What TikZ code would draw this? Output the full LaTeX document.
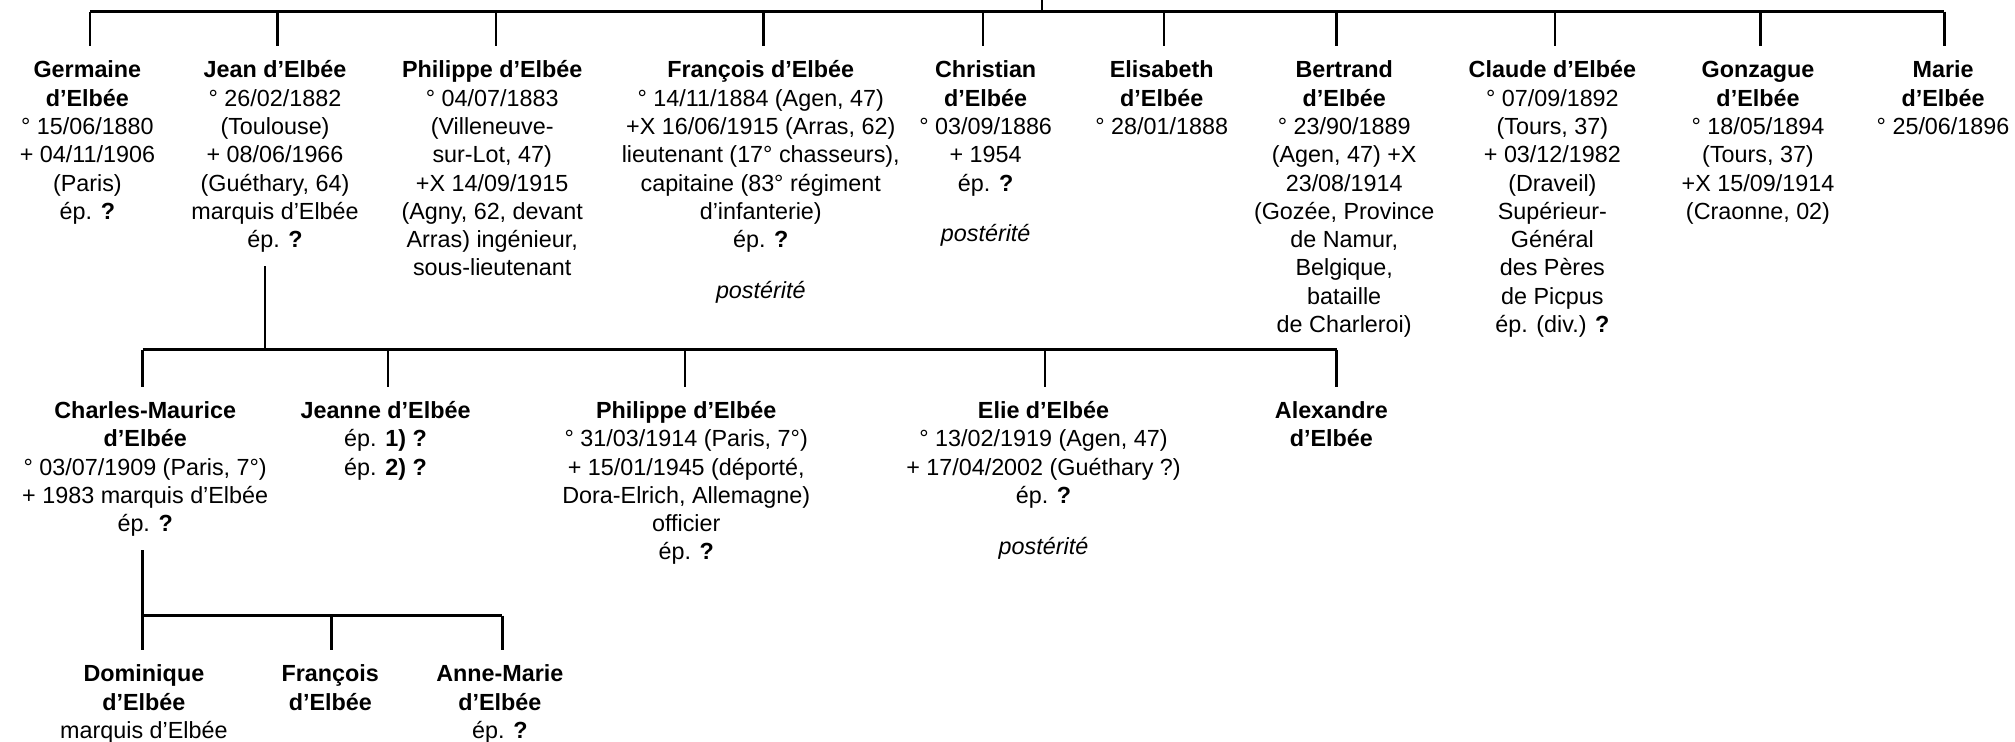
\documentclass[tikz,border=0pt]{standalone}
\usepackage{fontspec}
\setmainfont{Liberation Sans}
\newcommand\firstln{\rule{0pt}{11pt}}
\begin{document}
\begin{tikzpicture}[x=0.6pt,y=-0.6pt,line width=1.1pt,
  person/.style={anchor=north,align=center,inner sep=0pt,font=\fontsize{10.9}{13.2}\selectfont},
  link/.style={draw=black,line width=1.1pt}]
\useasboundingbox (0,0) rectangle (1568,577);
% generation 1
\node[person] (g) at (68,41.4) {\firstln\textbf{Germaine}\\\textbf{d’Elbée}\\° 15/06/1880\\+ 04/11/1906\\(Paris)\\ép. \textbf{?}};
\node[person] (jean) at (214,41.4) {\firstln\textbf{Jean d’Elbée}\\° 26/02/1882\\(Toulouse)\\+ 08/06/1966\\(Guéthary, 64)\\marquis d’Elbée\\ép. \textbf{?}};
\node[person] (ph) at (383,41.4) {\firstln\textbf{Philippe d’Elbée}\\° 04/07/1883\\(Villeneuve-\\sur-Lot, 47)\\+X 14/09/1915\\(Agny, 62, devant\\Arras) ingénieur,\\sous-lieutenant};
\node[person] (fr) at (592,41.4) {\firstln\textbf{François d’Elbée}\\° 14/11/1884 (Agen, 47)\\+X 16/06/1915 (Arras, 62)\\lieutenant (17° chasseurs),\\capitaine (83° régiment\\d’infanterie)\\ép. \textbf{?}\\[10.5pt]\textit{postérité}};
\node[person] (ch) at (767,41.4) {\firstln\textbf{Christian}\\\textbf{d’Elbée}\\° 03/09/1886\\+ 1954\\ép. \textbf{?}\\[10.5pt]\textit{postérité}};
\node[person] (el) at (904,41.4) {\firstln\textbf{Elisabeth}\\\textbf{d’Elbée}\\° 28/01/1888};
\node[person] (be) at (1046,41.4) {\firstln\textbf{Bertrand}\\\textbf{d’Elbée}\\° 23/90/1889\\(Agen, 47) +X\\23/08/1914\\(Gozée, Province\\de Namur,\\Belgique,\\bataille\\de Charleroi)};
\node[person] (cl) at (1208,41.4) {\firstln\textbf{Claude d’Elbée}\\° 07/09/1892\\(Tours, 37)\\+ 03/12/1982\\(Draveil)\\Supérieur-\\Général\\des Pères\\de Picpus\\ép. (div.) \textbf{?}};
\node[person] (go) at (1368,41.4) {\firstln\textbf{Gonzague}\\\textbf{d’Elbée}\\° 18/05/1894\\(Tours, 37)\\+X 15/09/1914\\(Craonne, 02)};
\node[person] (ma) at (1512,41.4) {\firstln\textbf{Marie}\\\textbf{d’Elbée}\\° 25/06/1896};
% generation 2
\node[person] (cm) at (113,306.4) {\firstln\textbf{Charles-Maurice}\\\textbf{d’Elbée}\\° 03/07/1909 (Paris, 7°)\\+ 1983 marquis d’Elbée\\ép. \textbf{?}};
\node[person] (je) at (300,306.4) {\firstln\textbf{Jeanne d’Elbée}\\ép. \textbf{1) ?}\\ép. \textbf{2) ?}};
\node[person] (ph2) at (534,306.4) {\firstln\textbf{Philippe d’Elbée}\\° 31/03/1914 (Paris, 7°)\\+ 15/01/1945 (déporté,\\Dora-Elrich, Allemagne)\\officier\\ép. \textbf{?}};
\node[person] (eli) at (812,306.4) {\firstln\textbf{Elie d’Elbée}\\° 13/02/1919 (Agen, 47)\\+ 17/04/2002 (Guéthary ?)\\ép. \textbf{?}\\[10.5pt]\textit{postérité}};
\node[person] (al) at (1036,306.4) {\firstln\textbf{Alexandre}\\\textbf{d’Elbée}};
% generation 3
\node[person] (dom) at (112,511.4) {\firstln\textbf{Dominique}\\\textbf{d’Elbée}\\marquis d’Elbée};
\node[person] (fr2) at (257,511.4) {\firstln\textbf{François}\\\textbf{d’Elbée}};
\node[person] (am) at (389,511.4) {\firstln\textbf{Anne-Marie}\\\textbf{d’Elbée}\\ép. \textbf{?}};
% connector coordinates
\coordinate (top) at (811,0);
\coordinate (bus1) at (811,9);
\coordinate (jd0) at (206,207);
\coordinate (bus2) at (206,272);
\coordinate (cd0) at (111,428);
\coordinate (bus3) at (111,479);
% generation 1 connectors
\draw[link] (top) -- (bus1);
\draw[link] (70,9) -- (1513,9);
\foreach \n/\x in {g/70,jean/216,ph/386,fr/594,ch/765,el/906,be/1040,cl/1210,go/1370,ma/1513}
  \draw[link] (\x,9) -- (\x,36);
% generation 2 connectors
\draw[link] (jd0) -- (bus2);
\draw[link] (111,272) -- (1040,272);
\foreach \x in {111,302,533,813,1040}
  \draw[link] (\x,272) -- (\x,301);
% generation 3 connectors
\draw[link] (cd0) -- (bus3);
\draw[link] (111,479) -- (391,479);
\foreach \x in {111,258,391}
  \draw[link] (\x,479) -- (\x,506);
\end{tikzpicture}
\end{document}
